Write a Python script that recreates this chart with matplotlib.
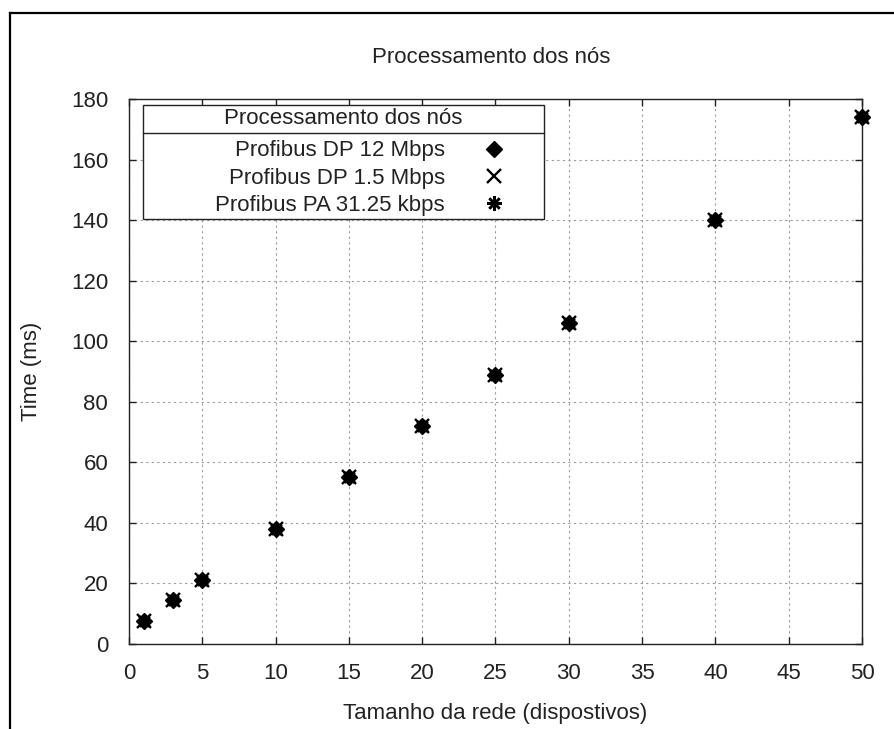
import numpy as np
import matplotlib
matplotlib.use('Agg')
from matplotlib import pyplot as plt
import matplotlib.lines as mlines
import matplotlib.patches as mpatches

# data
devices = [1, 3, 5, 10, 15, 20, 25, 30, 40, 50]
dp_12mbps = [7.5, 14.5, 21, 38, 55, 72, 89, 106, 140, 174]
dp_1_5mbps = [7.5, 14.5, 21, 38, 55, 72, 89, 106, 140, 174]
pa_31kbps = [7.5, 14.5, 21, 38, 55, 72, 89, 106, 140, 174]

series_labels = ['Profibus DP 12 Mbps', 'Profibus DP 1.5 Mbps', 'Profibus PA 31.25 kbps']
title = 'Processamento dos nós'
xlabel = 'Tamanho da rede (dispostivos)'
ylabel = 'Time (ms)'
xticks = np.arange(0, 55, 5)
yticks = np.arange(0, 200, 20)

plt.rcParams['font.family'] = ['Liberation Sans', 'DejaVu Sans']
fs = 16

fig = plt.figure(figsize=(8.95, 7.29), dpi=100)
W, H = 895, 729
ax = fig.add_axes([129 / W, 1 - 644 / H, 733 / W, 545 / H])

ax.plot(devices, dp_12mbps, linestyle='None', marker='D', markersize=8,
        color='k', label=series_labels[0], clip_on=False, zorder=6)
ax.plot(devices, dp_1_5mbps, linestyle='None', marker='x', markersize=9.5,
        markeredgewidth=1.7, color='k', label=series_labels[1], clip_on=False, zorder=6)
ax.plot(devices, pa_31kbps, linestyle='None', marker=(8, 2, 0), markersize=10.5,
        markeredgewidth=1.8, color='k', label=series_labels[2], clip_on=False, zorder=6)

ax.set_xlim(0, 50)
ax.set_ylim(0, 180)
ax.set_xticks(xticks)
ax.set_yticks(yticks)
ax.tick_params(direction='in', length=5, width=1, top=True, right=True,
               labelsize=fs, colors='#222222')
ax.tick_params(axis='y', pad=15)
ax.tick_params(axis='x', pad=13.5)
for s in ax.spines.values():
    s.set_linewidth(1)
    s.set_color('#222222')
ax.grid(True, color='#9a9a9a', linestyle=(0, (2, 3)), linewidth=0.8)
ax.set_axisbelow(True)

ax.set_title(title, fontsize=fs, pad=26, x=0.494, color='#222222')
ax.set_xlabel(xlabel, fontsize=fs, labelpad=14, color='#222222')
ax.set_ylabel(ylabel, fontsize=fs, labelpad=21, color='#222222')

# key box with title row, gnuplot style
bx0, bx1 = (143 - 129) / 733, (544 - 129) / 733
by0, by1 = (644 - 219) / 545, (644 - 105) / 545
bsep = (644 - 133) / 545
ax.add_patch(mpatches.Rectangle((bx0, by0), bx1 - bx0, by1 - by0, transform=ax.transAxes,
                                facecolor='white', edgecolor='#222222', linewidth=1, zorder=4))
ax.add_line(mlines.Line2D([bx0, bx1], [bsep, bsep], transform=ax.transAxes,
                          color='#222222', linewidth=1, zorder=4.5))
ax.text((bx0 + bx1) / 2, (bsep + by1) / 2, title, transform=ax.transAxes,
        ha='center', va='center', fontsize=fs, color='#222222', zorder=5)

leg = ax.legend(loc='center right', bbox_to_anchor=(0.5127, 0.855), frameon=False,
                markerfirst=False, fontsize=fs, handlelength=1.0, handletextpad=1.69,
                borderpad=0, borderaxespad=0, labelspacing=0.28)
for col in leg._legend_handle_box.get_children():
    col.align = 'right'
for t in leg.get_texts():
    t.set_color('#222222')

# outer frame lines (left and top)
fx = 10 / W
fy = 1 - 12.7 / H
fig.add_artist(mlines.Line2D([fx, fx], [0, fy], transform=fig.transFigure, color='k', linewidth=1.6))
fig.add_artist(mlines.Line2D([fx, 1], [fy, fy], transform=fig.transFigure, color='k', linewidth=1.6))

plt.savefig('out.png', dpi=100)
